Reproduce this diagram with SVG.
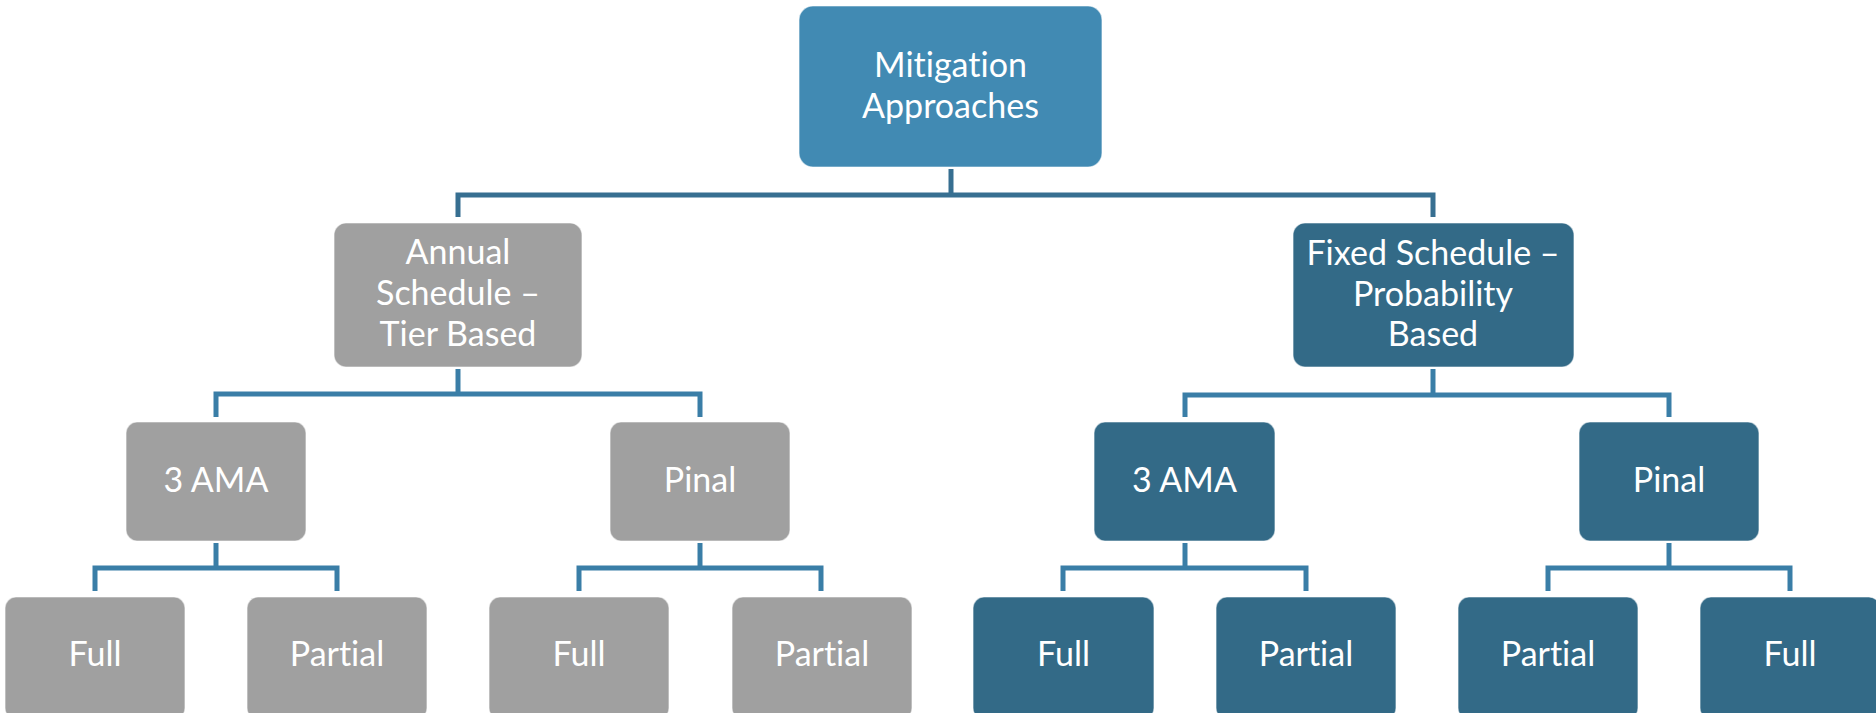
<svg xmlns="http://www.w3.org/2000/svg" width="1876" height="713" viewBox="0 0 1876 713">
<defs>
<style>
.box{stroke:#ffffff;stroke-opacity:0.55;stroke-width:1.2}
.root{fill:#418ab3}
.gray{fill:#a0a0a0}
.teal{fill:#336a87}
.lbl{font-family:Lato,"Liberation Sans",sans-serif;font-size:34px;fill:#ffffff;text-anchor:middle;font-variant-ligatures:none;font-feature-settings:"liga" 0}
.c1{fill:none;stroke:#376f91;stroke-width:5;stroke-linejoin:miter}
.c2{fill:none;stroke:#3a7ea7;stroke-width:5;stroke-linejoin:miter}
</style>
</defs>
<rect width="1876" height="713" fill="#ffffff"/>
<g id="connectors">
<path class="c1" d="M951 169 V195"/>
<path class="c1" d="M458 217 V195 H1433 V217"/>
<path class="c2" d="M458 369 V394"/>
<path class="c2" d="M216 417 V394 H700 V417"/>
<path class="c2" d="M1433 369 V395"/>
<path class="c2" d="M1185 417 V395 H1669 V417"/>
<path class="c2" d="M216 543 V568"/>
<path class="c2" d="M95 591 V568 H337 V591"/>
<path class="c2" d="M700 543 V568"/>
<path class="c2" d="M579 591 V568 H821 V591"/>
<path class="c2" d="M1185 543 V568"/>
<path class="c2" d="M1063 591 V568 H1306 V591"/>
<path class="c2" d="M1669 543 V568"/>
<path class="c2" d="M1548 591 V568 H1790 V591"/>
</g>
<g id="root">
<rect class="box root" x="799" y="6" width="303" height="161" rx="14"/>
<text class="lbl" x="950.5" y="77">Mitigation</text>
<text class="lbl" x="950.5" y="118">Approaches</text>
</g>
<g id="annual">
<rect class="box gray" x="334" y="223" width="248" height="144" rx="12"/>
<text class="lbl" x="458" y="264">Annual</text>
<text class="lbl" x="458" y="305">Schedule –</text>
<text class="lbl" x="458" y="346">Tier Based</text>
</g>
<g id="fixed">
<rect class="box teal" x="1293" y="223" width="281" height="144" rx="12"/>
<text class="lbl" x="1433" y="265">Fixed Schedule –</text>
<text class="lbl" x="1433" y="306">Probability</text>
<text class="lbl" x="1433" y="346">Based</text>
</g>
<g id="annual-3ama">
<rect class="box gray" x="126" y="422" width="180" height="119" rx="11"/>
<text class="lbl" x="216" y="492">3 AMA</text>
</g>
<g id="annual-pinal">
<rect class="box gray" x="610" y="422" width="180" height="119" rx="11"/>
<text class="lbl" x="700" y="492">Pinal</text>
</g>
<g id="fixed-3ama">
<rect class="box teal" x="1094" y="422" width="181" height="119" rx="11"/>
<text class="lbl" x="1184.5" y="492">3 AMA</text>
</g>
<g id="fixed-pinal">
<rect class="box teal" x="1579" y="422" width="180" height="119" rx="11"/>
<text class="lbl" x="1669" y="492">Pinal</text>
</g>
<g id="leaf1">
<rect class="box gray" x="5" y="597" width="180" height="122" rx="11"/>
<text class="lbl" x="95" y="666">Full</text>
</g>
<g id="leaf2">
<rect class="box gray" x="247" y="597" width="180" height="122" rx="11"/>
<text class="lbl" x="337" y="666">Partial</text>
</g>
<g id="leaf3">
<rect class="box gray" x="489" y="597" width="180" height="122" rx="11"/>
<text class="lbl" x="579" y="666">Full</text>
</g>
<g id="leaf4">
<rect class="box gray" x="732" y="597" width="180" height="122" rx="11"/>
<text class="lbl" x="822" y="666">Partial</text>
</g>
<g id="leaf5">
<rect class="box teal" x="973" y="597" width="181" height="122" rx="11"/>
<text class="lbl" x="1063.5" y="666">Full</text>
</g>
<g id="leaf6">
<rect class="box teal" x="1216" y="597" width="180" height="122" rx="11"/>
<text class="lbl" x="1306" y="666">Partial</text>
</g>
<g id="leaf7">
<rect class="box teal" x="1458" y="597" width="180" height="122" rx="11"/>
<text class="lbl" x="1548" y="666">Partial</text>
</g>
<g id="leaf8">
<rect class="box teal" x="1700" y="597" width="180" height="122" rx="11"/>
<text class="lbl" x="1790" y="666">Full</text>
</g>
</svg>
